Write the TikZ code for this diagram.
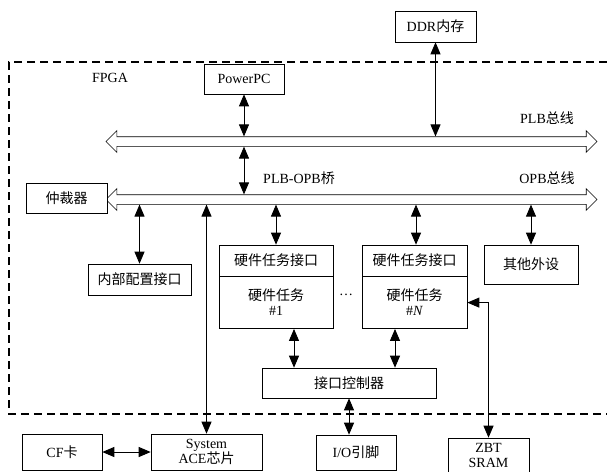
\documentclass[tikz,border=0pt]{standalone}
\usepackage{fontspec}
\setmainfont{Liberation Serif}
\newfontfamily\cjk{Noto Sans CJK SC}
\usetikzlibrary{
	positioning,
	arrows.meta,
	shapes.arrows
}

\begin{document}
\begin{tikzpicture}[
			x=1pt,y=-1pt,
			node distance=0pt,
			block/.style={
				draw,
				semithick,
				fill=white,
				inner sep=0pt,
				align=center,
				font=\fontsize{14}{15}\selectfont
			},
			tag/.style={inner sep=0pt,font=\fontsize{14}{15}\selectfont},
			bus/.style={
				double arrow,
				draw,
				semithick,
				fill=white,
				inner sep=4.5pt,
				double arrow head extend=6pt,
				double arrow tip angle=90,
				minimum height=491pt
			},
			biarrow/.style={{Triangle[length=12pt,width=10pt]}-{Triangle[length=12pt,width=10pt]},line width=0.9pt},
			frame/.style={dash pattern=on 8pt off 5pt,line width=1.6pt}
			]
			
			\useasboundingbox (0,0) rectangle (607,471);
			
			\draw[frame] (607,62) -- (9,62) -- (9,414) -- (607,414);
			
			\node[tag] (fpga) at (110,78) {FPGA};
			
			\node[block,minimum width=81pt,minimum height=31pt] (ddr) at (435.5,26.5)
			{DDR{\cjk 内存}};
			
			\node[block,minimum width=80pt,minimum height=30pt] (ppc) at (244,79)
			{PowerPC};
			
			\node[bus] (plb) at (351.5,141.5) {};
			
			\node[bus] (opb) at (351.5,199.5) {};
			
			\node[tag] (plbtag) at (547,118) {PLB{\cjk 总线}};
			
			\node[tag] (opbtag) at (547,178) {OPB{\cjk 总线}};
			
			\node[tag] (bridge) at (299,178) {PLB-OPB{\cjk 桥}};
			
			\node[block,minimum width=81pt,minimum height=30pt] (arb) at (66.5,198)
			{\cjk 仲裁器};
			
			\node[block,minimum width=103pt,minimum height=31pt] (icap) at (139.5,279.5)
			{\cjk 内部配置接口};
			
			\node[block,minimum width=114pt,minimum height=31pt] (hwif1) at (276,260.5)
			{\cjk 硬件任务接口};
			
			\node[block,minimum width=114pt,minimum height=52pt,below=of hwif1] (hw1)
			{{\cjk 硬件任务}\\\#1};
			
			\node[block,minimum width=105pt,minimum height=31pt] (hwifn) at (414.5,260.5)
			{\cjk 硬件任务接口};
			
			\node[block,minimum width=105pt,minimum height=52pt,below=of hwifn] (hwn)
			{{\cjk 硬件任务}\\\#\textit{N}};
			
			\node[tag] (dots) at (346,295) {…};
			
			\node[block,minimum width=94pt,minimum height=39pt] (periph) at (531,264.5)
			{\cjk 其他外设};
			
			\node[block,minimum width=174pt,minimum height=30pt] (ctrl) at (349,383)
			{\cjk 接口控制器};
			
			\node[block,minimum width=80pt,minimum height=36pt] (cf) at (62,452)
			{CF{\cjk 卡}};
			
			\node[block,minimum width=111pt,minimum height=36pt] (ace) at (206.5,452)
			{System\\ACE{\cjk 芯片}};
			
			\node[block,minimum width=80pt,minimum height=35pt] (io) at (356,452.5)
			{I/O{\cjk 引脚}};
			
			\node[block,minimum width=81pt,minimum height=35pt] (zbt) at (488.5,455.5)
			{ZBT\\SRAM};
			
			\draw[biarrow] (ppc.south) -- (ppc.south |- plb.north);
			\draw[biarrow] (ddr.south) -- (ddr.south |- plb.north);
			\draw[biarrow] (ppc.south |- plb.south) -- (ppc.south |- opb.north);
			\draw[biarrow] (icap.north |- opb.south) -- (icap.north);
			\draw[biarrow] (ace.north |- opb.south) -- (ace.north);
			\draw[biarrow] (hwif1.north |- opb.south) -- (hwif1.north);
			\draw[biarrow] ([xshift=1.5pt]hwifn.north |- opb.south) -- ([xshift=1.5pt]hwifn.north);
			\draw[biarrow] (periph.north |- opb.south) -- (periph.north);
			\draw[biarrow] ([xshift=18pt]hw1.south) -- ([xshift=18pt]hw1.south |- ctrl.north);
			\draw[biarrow] ([xshift=-19.5pt]hwn.south) -- ([xshift=-19.5pt]hwn.south |- ctrl.north);
			\draw[biarrow] (ctrl.south) -- (ctrl.south |- io.north);
			\draw[biarrow] (cf.east) -- (ace.west);
			\draw[biarrow] (hwn.east) -| (zbt.north);
			
		\end{tikzpicture}
\end{document}
